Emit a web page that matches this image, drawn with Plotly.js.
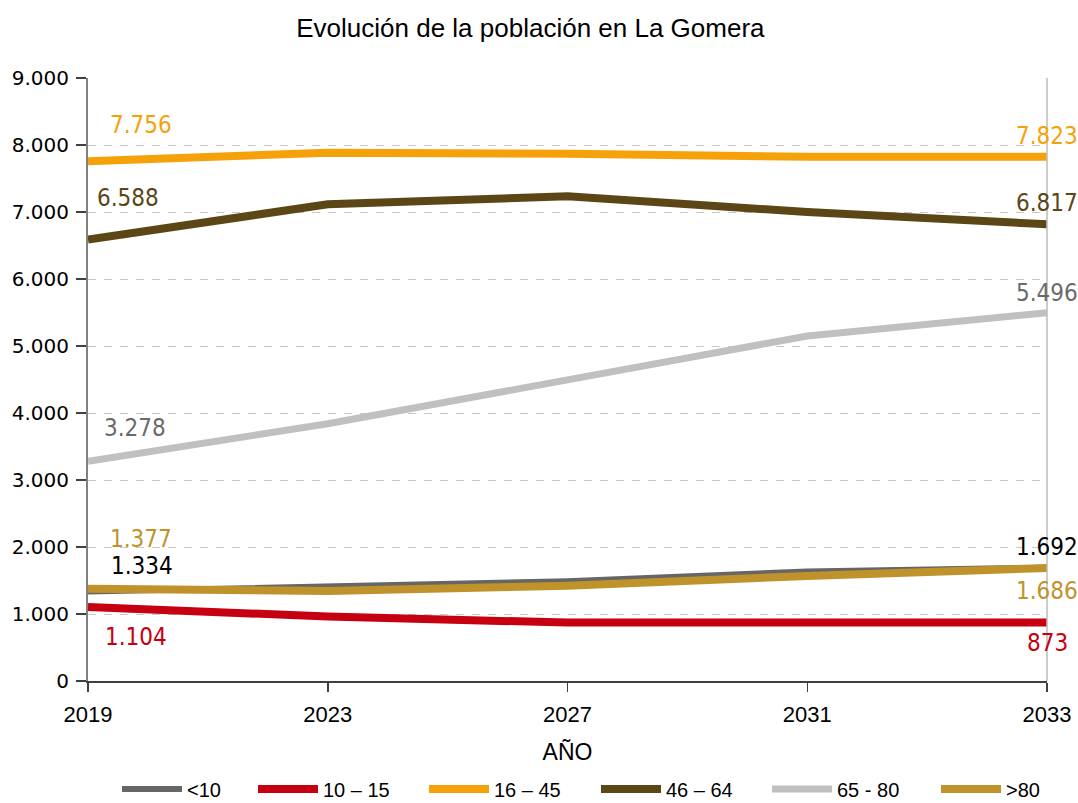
<!DOCTYPE html>
<html>
<head>
<meta charset="utf-8">
<script src="https://cdn.plot.ly/plotly-3.0.1.min.js"></script>
<style>
  html, body { margin: 0; padding: 0; background: #ffffff; }
  #chart { width: 1078px; height: 803px; }
</style>
</head>
<body>
<div id="chart"></div>
<script>
// ---- Data ----
const years = ['2019', '2023', '2027', '2031', '2033'];
const seriesNames = ['<10', '10 – 15', '16 – 45', '46 – 64', '65 - 80', '>80'];
const ageUnder10 = [1334, 1405, 1490, 1635, 1692];
const age10to15 = [1104, 962, 872, 868, 873];
const age16to45 = [7756, 7885, 7868, 7825, 7823];
const age46to64 = [6588, 7115, 7235, 7000, 6817];
const age65to80 = [3278, 3840, 4495, 5150, 5496];
const ageOver80 = [1377, 1345, 1420, 1568, 1686];

// ---- Styles ----
const seriesValues = [ageUnder10, age10to15, age16to45, age46to64, age65to80, ageOver80];
const lineColors = ['#666666', '#C60010', '#F5A20A', '#5B4616', '#C0C0C0', '#C0922C'];
const lineWidths = [6, 8, 8, 8, 7, 8];
const labelColors = ['#000000', '#C60010', '#F5A20A', '#5B4616', '#6A6A6A', '#C0922C'];
// [xshift, yshift] for first and last label of each series
const firstShift = [[54, 26], [48, -30], [53, 36], [40, 42], [47, 33], [53, 50]];
const lastShift = [[0, 21], [0, -20], [0, 21], [0, 21], [0, 20], [0, -23]];
// legend entry left positions (container fraction)
const legendX = [117, 253, 424, 596, 767, 936].map(px => px / 1078);

function fmt(v) {
  return String(v).replace(/\B(?=(\d{3})+(?!\d))/g, '.');
}

const traces = seriesNames.map((name, i) => ({
  type: 'scatter',
  mode: 'lines',
  name: name,
  x: years,
  y: seriesValues[i],
  line: { color: lineColors[i], width: lineWidths[i] },
  legend: i === 0 ? 'legend' : 'legend' + (i + 1),
  hoverinfo: 'x+y+name'
}));

const labelFont = { family: 'DejaVu Sans Condensed, Noto Sans, sans-serif', size: 24 };
const annotations = [];
seriesValues.forEach((vals, i) => {
  const last = vals.length - 1;
  // category axis: position by category index
  annotations.push({
    x: 0, y: vals[0], xref: 'x', yref: 'y',
    text: fmt(vals[0]), showarrow: false,
    xanchor: 'center', yanchor: 'middle',
    xshift: firstShift[i][0], yshift: firstShift[i][1],
    font: Object.assign({ color: labelColors[i] }, labelFont)
  });
  annotations.push({
    x: last, y: vals[last], xref: 'x', yref: 'y',
    text: fmt(vals[last]), showarrow: false,
    xanchor: 'center', yanchor: 'middle',
    xshift: lastShift[i][0], yshift: lastShift[i][1],
    font: Object.assign({ color: labelColors[i] }, labelFont)
  });
});

const layout = {
  width: 1078,
  height: 803,
  margin: { l: 88, r: 31, t: 78, b: 122 },
  paper_bgcolor: '#ffffff',
  plot_bgcolor: '#ffffff',
  separators: ',.',
  showlegend: true,
  title: {
    text: 'Evolución de la población en La Gomera',
    font: { family: 'Liberation Sans, Arial, sans-serif', size: 26, color: '#000000' },
    x: 0.492, xanchor: 'center',
    y: 0.965, yanchor: 'middle', yref: 'container'
  },
  xaxis: {
    type: 'category',
    range: [0, 4],
    showgrid: false,
    zeroline: false,
    showline: true,
    linecolor: '#404040',
    linewidth: 1.5,
    ticks: 'outside',
    ticklen: 9,
    tickwidth: 1.5,
    tickcolor: '#404040',
    ticklabelstandoff: 4,
    tickfont: { family: 'Liberation Sans, Arial, sans-serif', size: 22, color: '#000000' },
    title: {
      text: 'AÑO',
      font: { family: 'Liberation Sans, Arial, sans-serif', size: 23, color: '#000000' },
      standoff: 18
    },
    fixedrange: true
  },
  yaxis: {
    range: [0, 9000],
    dtick: 1000,
    tickformat: ',d',
    showgrid: true,
    gridcolor: '#C8C8C8',
    gridwidth: 1,
    griddash: '8px,8px',
    zeroline: false,
    showline: true,
    linecolor: '#808080',
    linewidth: 2,
    ticks: 'outside',
    ticklen: 10,
    tickwidth: 1.5,
    tickcolor: '#404040',
    ticklabelstandoff: 3,
    tickfont: { family: 'DejaVu Sans, Verdana, sans-serif', size: 20, color: '#000000' },
    fixedrange: true
  },
  shapes: [{
    type: 'line', xref: 'paper', yref: 'paper',
    x0: 1, x1: 1, y0: 0, y1: 1,
    line: { color: '#BBBBBB', width: 1.5 }
  }],
  annotations: annotations
};

legendX.forEach((lx, i) => {
  const key = i === 0 ? 'legend' : 'legend' + (i + 1);
  layout[key] = {
    orientation: 'h',
    xref: 'container', yref: 'container',
    x: lx, xanchor: 'left',
    y: 0.0175, yanchor: 'middle',
    itemwidth: 60,
    font: { family: 'Liberation Sans, Arial, sans-serif', size: 20, color: '#000000' },
    bgcolor: 'rgba(0,0,0,0)'
  };
});

Plotly.newPlot('chart', traces, layout, { displayModeBar: false, staticPlot: true });
</script>
</body>
</html>
